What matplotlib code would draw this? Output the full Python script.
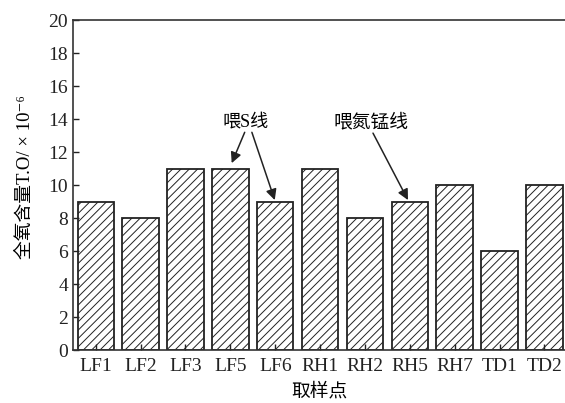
import matplotlib
matplotlib.use("Agg")
import matplotlib.pyplot as plt

plt.rcParams['font.family'] = ['Liberation Serif', 'Noto Sans CJK SC', 'DejaVu Serif']
plt.rcParams['hatch.color'] = '#707070'
plt.rcParams['hatch.linewidth'] = 0.7

sites = ['LF1', 'LF2', 'LF3', 'LF5', 'LF6', 'RH1', 'RH2', 'RH5', 'RH7', 'TD1', 'TD2']
total_oxygen = [9, 8, 11, 11, 9, 11, 8, 9, 10, 6, 10]
yticks = list(range(0, 21, 2))

fig = plt.figure(figsize=(5.65, 4.03), dpi=100)
ax = fig.add_axes([0.129, 0.1315, 0.871, 0.8185])

x = list(range(len(sites)))
ax.bar(x, total_oxygen, width=0.81, facecolor='white', edgecolor='#222222',
       linewidth=1.3, hatch='////')

ax.set_xlim(-0.51, 10.46)
ax.set_ylim(0, 20)
ax.set_yticks(yticks)
ax.set_xticks(x)
ax.set_xticklabels(sites)
ax.tick_params(direction='in', labelsize=14, length=4, width=1, colors='#222222')
ax.tick_params(axis='x', pad=6)
for s in ['left', 'bottom', 'top']:
    ax.spines[s].set_linewidth(1.2)
    ax.spines[s].set_color('#333333')
ax.spines['right'].set_visible(False)

ax.set_ylabel('全氧含量T.O/ × 10⁻⁶', fontsize=13.5)
ax.yaxis.set_label_coords(-0.079, 0.525)
ax.set_xlabel('取样点', fontsize=13.5, labelpad=5)

arrow = dict(arrowstyle='-|>', color='#222222', lw=1.1, mutation_scale=16,
             shrinkA=0, shrinkB=0)
ax.text(3.34, 13.8, '喂S线', fontsize=13, ha='center', va='center')
ax.annotate('', xy=(3.03, 11.33), xytext=(3.32, 13.2), arrowprops=arrow)
ax.annotate('', xy=(3.99, 9.09), xytext=(3.48, 13.2), arrowprops=arrow)
ax.text(6.13, 13.8, '喂氮锰线', fontsize=13.5, ha='center', va='center')
ax.annotate('', xy=(6.96, 9.09), xytext=(6.18, 13.15), arrowprops=arrow)

fig.savefig('out.png', dpi=100)
